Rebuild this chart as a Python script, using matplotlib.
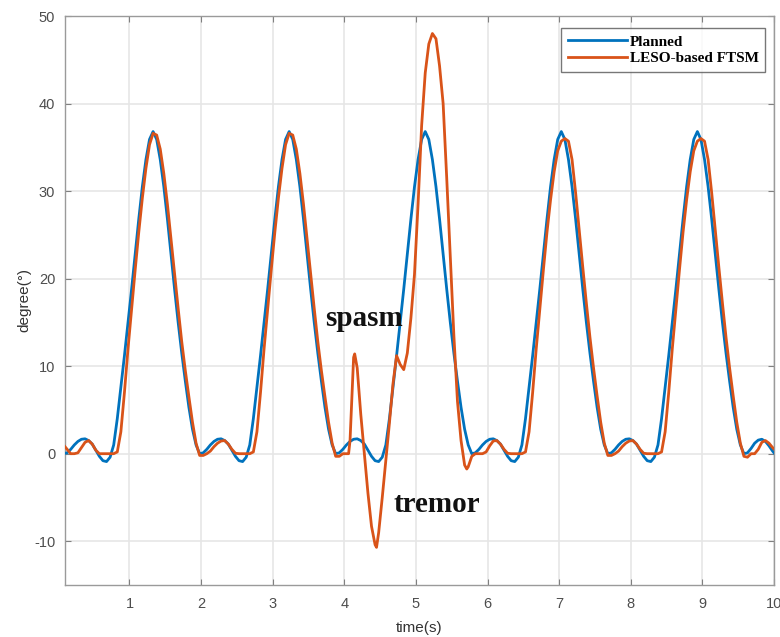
import numpy as np
import matplotlib
matplotlib.use("Agg")
import matplotlib.pyplot as plt

plt.rcParams['axes.unicode_minus'] = False

# sampling grid of the recorded joint angle, 0.05 s step
time = np.round(0.08 + 0.05 * np.arange(200), 2)

planned = [
    0.0, 0.1, 0.5, 1.0, 1.4, 1.65,
    # cycle 1
    1.7, 1.5, 1.1, 0.4, -0.3, -0.8, -0.9, -0.4, 1.0, 4.0, 7.6, 11.2, 15.0, 18.8, 22.8, 26.8, 30.5, 33.6, 35.9,
    36.8, 35.9, 33.6, 30.5, 26.8, 22.8, 18.8, 15.0, 11.5, 8.3, 5.3, 2.8, 1.0, 0.0, 0.1, 0.5, 1.0, 1.4, 1.65,
    # cycle 2
    1.7, 1.5, 1.1, 0.4, -0.3, -0.8, -0.9, -0.4, 1.0, 4.0, 7.6, 11.2, 15.0, 18.8, 22.8, 26.8, 30.5, 33.6, 35.9,
    36.8, 35.9, 33.6, 30.5, 26.8, 22.8, 18.8, 15.0, 11.5, 8.3, 5.3, 2.8, 1.0, 0.0, 0.1, 0.5, 1.0, 1.4, 1.65,
    # cycle 3
    1.7, 1.5, 1.1, 0.4, -0.3, -0.8, -0.9, -0.4, 1.0, 4.0, 7.6, 11.2, 15.0, 18.8, 22.8, 26.8, 30.5, 33.6, 35.9,
    36.8, 35.9, 33.6, 30.5, 26.8, 22.8, 18.8, 15.0, 11.5, 8.3, 5.3, 2.8, 1.0, 0.0, 0.1, 0.5, 1.0, 1.4, 1.65,
    # cycle 4
    1.7, 1.5, 1.1, 0.4, -0.3, -0.8, -0.9, -0.4, 1.0, 4.0, 7.6, 11.2, 15.0, 18.8, 22.8, 26.8, 30.5, 33.6, 35.9,
    36.8, 35.9, 33.6, 30.5, 26.8, 22.8, 18.8, 15.0, 11.5, 8.3, 5.3, 2.8, 1.0, 0.0, 0.1, 0.5, 1.0, 1.4, 1.65,
    # cycle 5
    1.7, 1.5, 1.1, 0.4, -0.3, -0.8, -0.9, -0.4, 1.0, 4.0, 7.6, 11.2, 15.0, 18.8, 22.8, 26.8, 30.5, 33.6, 35.9,
    36.8, 35.9, 33.6, 30.5, 26.8, 22.8, 18.8, 15.0, 11.5, 8.3, 5.3, 2.8, 1.0, 0.0, 0.1, 0.6, 1.2, 1.55, 1.65,
    1.4, 0.9, 0.3, -0.2,
]

leso = [
    1.0, 0.5, 0.0, 0.0, 0.1, 0.7,
    # cycle 1
    1.3, 1.5, 1.1, 0.4, 0.0, 0.0, 0.0, 0.0, 0.0, 0.2, 2.5, 7.0, 12.0, 16.5, 21.0, 25.3, 29.2, 32.6, 35.3,
    36.6, 36.4, 34.8, 32.0, 28.5, 24.5, 20.5, 16.6, 12.8, 9.5, 6.5, 3.6, 1.2, -0.2, -0.2, 0.0, 0.3, 0.8, 1.2,
    # cycle 2, spasm starts at the end
    1.45, 1.5, 1.1, 0.5, 0.05, 0.0, 0.0, 0.0, 0.0, 0.2, 2.5, 7.0, 12.0, 16.5, 21.0, 25.3, 29.2, 32.6, 35.3,
    36.6, 36.4, 34.8, 32.0, 28.5, 24.5, 20.5, 16.6, 12.8, 9.5, 6.5, 3.6, 1.2, -0.3, -0.3, 0.0, 0.0, 1.5, 11.0,
    # cycle 3, spasm / tremor and overshoot
    9.8, 4.5, 0.0, -4.5, -8.3, -10.4, -9.0, -5.0, -0.8, 3.5, 8.0, 11.2, 10.2, 9.6, 11.5, 15.5, 20.5, 28.5, 37.5,
    43.5, 46.8, 48.0, 47.4, 44.3, 40.0, 31.5, 22.5, 13.5, 6.0, 1.5, -1.3, -1.5, -0.3, 0.0, 0.0, 0.0, 0.2, 0.9,
    # cycle 4
    1.45, 1.5, 1.1, 0.5, 0.05, 0.0, 0.0, 0.0, 0.0, 0.2, 2.5, 7.0, 12.0, 16.5, 21.0, 25.3, 29.0, 32.2, 34.6,
    35.7, 36.0, 35.7, 33.6, 29.8, 25.5, 21.3, 17.2, 13.3, 9.8, 6.6, 3.6, 1.2, -0.2, -0.2, 0.0, 0.3, 0.8, 1.2,
    # cycle 5
    1.45, 1.5, 1.1, 0.5, 0.05, 0.0, 0.0, 0.0, 0.0, 0.2, 2.5, 7.0, 12.0, 16.5, 21.0, 25.3, 29.0, 32.2, 34.6,
    35.7, 36.0, 35.7, 33.6, 29.8, 25.5, 21.3, 17.2, 13.3, 9.8, 6.6, 3.6, 1.2, -0.3, -0.4, 0.0, 0.0, 0.5, 1.3,
    1.5, 1.2, 0.7, 0.3,
]

# extra samples around the sharp turning points of the disturbed response
leso_extra_t = [4.06, 4.145, 4.45, 5.71]
leso_extra = [0.0, 11.4, -10.7, -1.75]

t_leso = np.concatenate([time, leso_extra_t])
y_leso = np.concatenate([leso, leso_extra])
order = np.argsort(t_leso)
t_leso, y_leso = t_leso[order], y_leso[order]

xticks = [1, 2, 3, 4, 5, 6, 7, 8, 9, 10]
yticks = [-10, 0, 10, 20, 30, 40, 50]

fig = plt.figure(figsize=(7.8, 6.37), dpi=100)
ax = fig.add_axes([65 / 780, 1 - 585 / 637, (774 - 65) / 780, (585 - 16) / 637])

ax.plot(time, planned, color='#0072BD', lw=2.0, label='Planned', zorder=3)
ax.plot(t_leso, y_leso, color='#D95319', lw=2.0, label='LESO-based FTSM', zorder=3)

ax.set_xlim(0.1, 10)
ax.set_ylim(-15, 50)
ax.set_xticks(xticks)
ax.set_yticks(yticks)
ax.grid(True, color='#e6e6e6', lw=1.2)
ax.set_axisbelow(True)
ax.tick_params(direction='in', length=4, top=True, right=True, color='#808080',
               labelcolor='#4d4d4d', labelsize=10.5)
ax.tick_params(axis='x', pad=9)
ax.tick_params(axis='y', pad=7)
for lab in ax.get_xticklabels() + ax.get_yticklabels():
    lab.set_family('Liberation Sans')
for s in ax.spines.values():
    s.set_color('#9a9a9a')
    s.set_linewidth(1.0)

ax.set_xlabel('time(s)', fontsize=11, color='#333333', family='Liberation Sans', labelpad=7)
ax.set_ylabel('degree(°)', fontsize=11, color='#333333', family='Liberation Sans', labelpad=2)

ax.text(4.28, 15.5, 'spasm', fontsize=21, fontweight='bold', family='Liberation Serif',
        ha='center', va='center', color='#111111')
ax.text(5.29, -5.8, 'tremor', fontsize=21, fontweight='bold', family='Liberation Serif',
        ha='center', va='center', color='#111111')

leg = ax.legend(loc='upper right', bbox_to_anchor=(0.988, 0.979), fancybox=False,
                prop={'family': 'Liberation Serif', 'weight': 'bold', 'size': 11},
                handlelength=3.9, handletextpad=0.15, borderpad=0.45, labelspacing=0.2,
                borderaxespad=0.0)
leg.get_frame().set_edgecolor('#555555')
leg.get_frame().set_linewidth(1.0)

fig.savefig('out.png', dpi=100)
